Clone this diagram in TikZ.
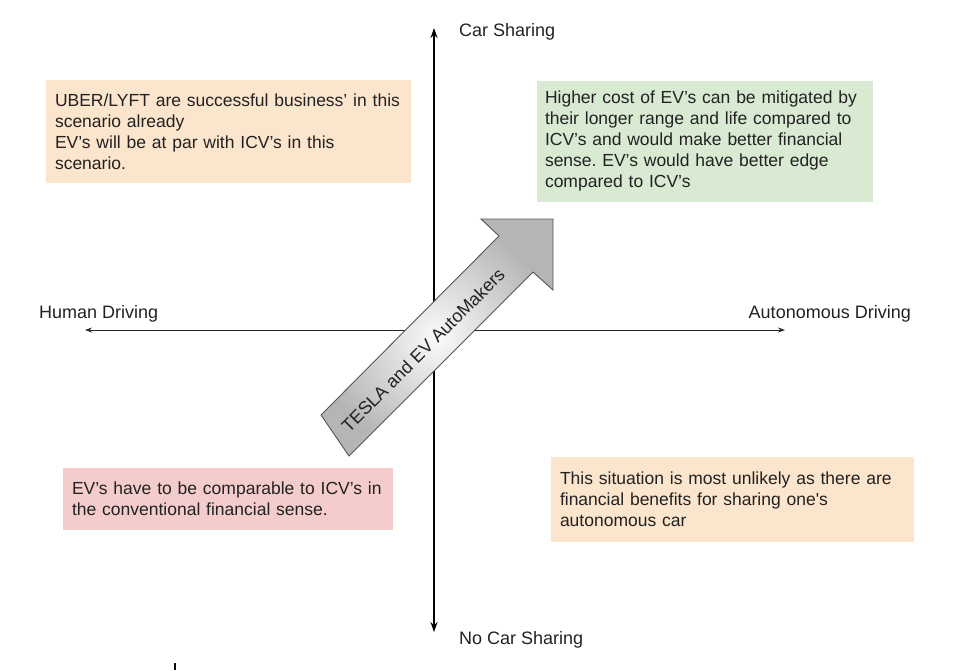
\documentclass[tikz,border=0pt]{standalone}
\usepackage{fontspec}
\setmainfont{Liberation Sans}
\usepackage{tikz}
\usetikzlibrary{arrows.meta}
\definecolor{qorange} {RGB}{252,229,205}
\definecolor{qgreen}  {RGB}{217,234,211}
\definecolor{qred}    {RGB}{244,204,204}
\definecolor{qtext}   {RGB}{34,34,34}
\definecolor{qedge}   {RGB}{85,85,85}
\tikzset{
    vaxis/.style={draw=black,line width=1.6pt,
             {Stealth[length=10pt,width=7pt]}-{Stealth[length=10pt,width=7pt]}},
    haxis/.style={draw=black!85,line width=1pt,
             {Stealth[length=7pt,width=5pt]}-{Stealth[length=7pt,width=5pt]}},
    axlabel/.style={inner sep=0pt,text=qtext,font=\fontsize{18}{21}\selectfont},
    quad/.style={inner sep=0pt,align=left,text=qtext,
             font=\fontsize{17.5}{21}\selectfont},
    bigarrow/.style={draw=qedge,line width=0.9pt,line join=miter,
             inner color=gray!4,outer color=gray!58}
  }
\frenchspacing
\begin{document}
\begin{tikzpicture}[x=1pt,y=-1pt]
 \useasboundingbox (0,0) rectangle (968,670);
 % axis ends
     \coordinate (top) at (434,28);
     \coordinate (bottom) at (434,632);
     \coordinate (left) at (85,330);
     \coordinate (right) at (785,330);
 % axes
     \draw[vaxis] (bottom) -- (top);
     \draw[haxis] (left) -- (right);
 % axis labels
     \node[axlabel,anchor=west] (carsh) at (459,32) {Car Sharing};
     \node[axlabel,anchor=west] (nocarsh) at (459,640) {No Car Sharing};
     \node[axlabel,anchor=west] (human) at (39,314) {Human Driving};
     \node[axlabel,anchor=east] (auton) at (911,314) {Autonomous Driving};
 % big arrow
     \draw[bigarrow] (321,415) -- (499,236) -- (481,219) -- (553,219)
          -- (553,290) -- (533,272) -- (349,456) -- cycle;
     \node[axlabel,rotate=45] (tesla) at (423,350) {TESLA and EV AutoMakers};
 % quadrant notes
     \node[quad,fill=qorange,minimum width=365pt,minimum height=103pt,
           text width=347pt] (uber) at (228.5,131.5)
          {UBER/LYFT are successful business’ in this\\
           scenario already\\
           EV’s will be at par with ICV’s in this\\
           scenario.};
     \node[quad,fill=qgreen,minimum width=336pt,minimum height=121pt,
           text width=320pt] (higher) at (705,141)
          {Higher cost of EV’s can be mitigated by\\
           their longer range and life compared to\\
           ICV’s and would make better financial\\
           sense. EV’s would have better edge\\
           compared to ICV’s};
     \node[quad,fill=qred,minimum width=330pt,minimum height=62pt,
           text width=312pt] (compar) at (228,499)
          {EV’s have to be comparable to ICV’s in\\
           the conventional financial sense.};
     \node[quad,fill=qorange,minimum width=363pt,minimum height=85pt,
           text width=345pt] (unlikely) at (732.5,499.5)
          {This situation is most unlikely as there are\\
           financial benefits for sharing one\textquotesingle s\\
           autonomous car};
 % tick
     \draw[line width=1.5pt] (175,663) -- (175,670);
\end{tikzpicture}
\end{document}
